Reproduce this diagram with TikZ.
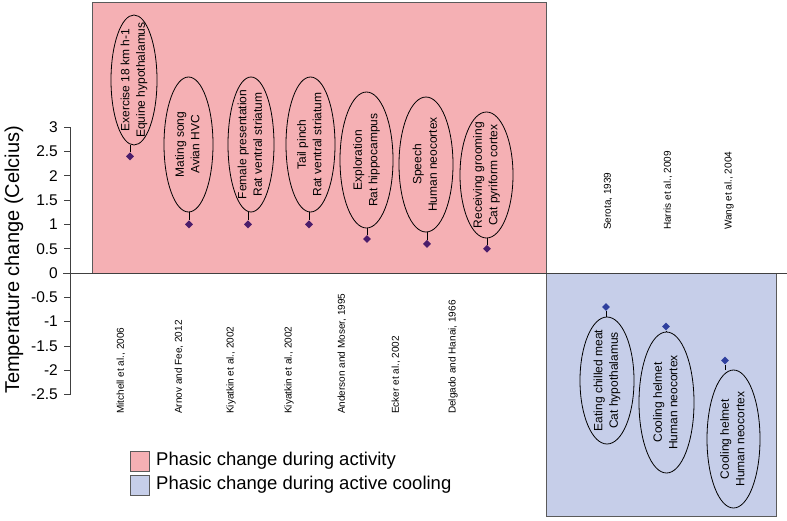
\documentclass[tikz,border=0pt]{standalone}
\usepackage{fontspec}
\setmainfont{Liberation Sans}
\usetikzlibrary{shapes.geometric}
\definecolor{pinkfill}{HTML}{F5B0B4}
\definecolor{bluefill}{HTML}{C6CEE9}
\definecolor{boxedge}{HTML}{5A5A5A}
\definecolor{redpt}{HTML}{4B1D6B}
\definecolor{bluept}{HTML}{2E3F9E}
\newcommand{\calltxt}[2]{\makebox[0pt]{\raisebox{-.5\height}[0pt][0pt]{\rotatebox{90}{\begin{tabular}{@{}c@{}}#1\\#2\end{tabular}}}}}
\begin{document}
\begin{tikzpicture}[x=1pt,y=-1pt,
  callout/.style={ellipse, draw=black, line width=0.8pt, inner sep=0pt, font=\fontsize{12}{15.5}\selectfont},
  redpoint/.style={diamond, fill=redpt, inner sep=0pt, minimum size=8pt},
  bluepoint/.style={diamond, fill=bluept, inner sep=0pt, minimum size=8pt},
  connector/.style={draw=black, line width=0.9pt},
  catlabel/.style={rotate=90, anchor=west, inner sep=0pt, font=\fontsize{10}{12}\selectfont},
  ticklabel/.style={anchor=east, inner sep=0pt, font=\fontsize{15.5}{17}\selectfont},
  legbox/.style={draw=boxedge, line width=0.8pt, minimum width=19pt, minimum height=20pt, inner sep=0pt},
  legtext/.style={anchor=west, inner sep=0pt, font=\fontsize{18.5}{21}\selectfont}
]
\useasboundingbox (0,0) rectangle (787,520);
% background panels
\draw[boxedge, line width=1pt, fill=pinkfill] (92,2) rectangle (546,273);
\draw[boxedge, line width=1pt, fill=bluefill] (546,273) rectangle (776,516);
% axes
\draw[black!75, line width=0.8pt] (70,127) -- (70,395);
\draw[black!75, line width=0.8pt] (63,273) -- (787,273);
\foreach \v/\lab [count=\i] in {3/3,2.5/2.5,2/2,1.5/1.5,1/1,0.5/0.5,0/0,-0.5/-0.5,-1/-1,-1.5/-1.5,-2/-2,-2.5/-2.5}{
  \draw[black!75, line width=0.8pt] (64,{273-\v*48.6}) -- (70,{273-\v*48.6});
  \node[ticklabel] (tick\i) at (58,{273-\v*48.6}) {\lab};
}
\node[rotate=90, inner sep=0pt, font=\fontsize{20}{23}\selectfont] (ytitle) at (14,260) {Temperature change (Celcius)};
% callouts (activity)
\node[callout, minimum width=46pt, minimum height=130pt] (e1) at (134,80) {\calltxt{Exercise 18 km h-1}{Equine hypothalamus}};
\node[callout, minimum width=49pt, minimum height=135pt] (e2) at (188.5,144.5) {\calltxt{Mating song}{Avian HVC}};
\node[callout, minimum width=46pt, minimum height=135pt] (e3) at (251,144.5) {\calltxt{Female presentation}{Rat ventral striatum}};
\node[callout, minimum width=49pt, minimum height=135pt] (e4) at (310.5,144.5) {\calltxt{Tail pinch}{Rat ventral striatum}};
\node[callout, minimum width=53pt, minimum height=136pt] (e5) at (366.5,160) {\calltxt{Exploration}{Rat hippocampus}};
\node[callout, minimum width=54pt, minimum height=135pt] (e6) at (426,164.5) {\calltxt{Speech}{Human neocortex}};
\node[callout, minimum width=53pt, minimum height=126pt] (e7) at (486.5,175) {\calltxt{Receiving grooming}{Cat pyriform cortex}};
% callouts (cooling)
\node[callout, minimum width=54pt, minimum height=127pt] (e8) at (607,380.5) {\calltxt{Eating chilled meat}{Cat hypothalamus}};
\node[callout, minimum width=55pt, minimum height=141pt] (e9) at (666.5,402.5) {\calltxt{Cooling helmet}{Human neocortex}};
\node[callout, minimum width=53pt, minimum height=138pt] (e10) at (733.5,439) {\calltxt{Cooling helmet}{Human neocortex}};
% data points
\node[redpoint] (p1) at (130,{273-2.4*48.6}) {};
\node[redpoint] (p2) at (189,{273-1*48.6}) {};
\node[redpoint] (p3) at (248,{273-1*48.6}) {};
\node[redpoint] (p4) at (309,{273-1*48.6}) {};
\node[redpoint] (p5) at (367,{273-0.7*48.6}) {};
\node[redpoint] (p6) at (427,{273-0.6*48.6}) {};
\node[redpoint] (p7) at (487,{273-0.5*48.6}) {};
\node[bluepoint] (p8) at (606,{273+0.7*48.6}) {};
\node[bluepoint] (p9) at (666,{273+1.1*48.6}) {};
\node[bluepoint] (p10) at (725,{273+1.8*48.6}) {};
% connectors
\foreach \k in {1,...,7}{ \draw[connector] (p\k.north) -- (p\k.north |- e\k.south); }
\foreach \k in {8,9,10}{ \draw[connector] (p\k.south) -- (p\k.south |- e\k.north); }
% category labels
\node[catlabel] (c1) at (121,414) {Mitchell et al., 2006};
\node[catlabel] (c2) at (179,414) {Arnov and Fee, 2012};
\node[catlabel] (c3) at (231,414) {Kiyatkin et al., 2002};
\node[catlabel] (c4) at (289,414) {Kiyatkin et al., 2002};
\node[catlabel] (c5) at (342,414) {Anderson and Moser, 1995};
\node[catlabel] (c6) at (396,414) {Ecker et al., 2002};
\node[catlabel] (c7) at (453,414) {Delgado and Hanai, 1966};
\node[catlabel] (c8) at (608,230) {Serota, 1939};
\node[catlabel] (c9) at (668,230) {Harris et al., 2009};
\node[catlabel] (c10) at (729,230) {Wang et al., 2004};
% legend
\node[legbox, fill=pinkfill] (leg1) at (139.5,461) {};
\node[legbox, fill=bluefill] (leg2) at (139.5,485) {};
\node[legtext] (leg1t) at (156,461) {Phasic change during activity};
\node[legtext] (leg2t) at (156,485) {Phasic change during active cooling};
\end{tikzpicture}
\end{document}
